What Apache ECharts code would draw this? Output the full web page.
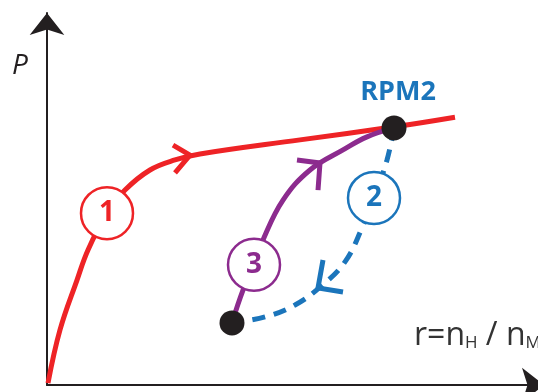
<!DOCTYPE html>
<html>
<head>
<meta charset="utf-8">
<script src="https://cdn.jsdelivr.net/npm/echarts@6/dist/echarts.min.js"></script>
<style>
  html, body { margin: 0; padding: 0; background: #fff; }
  #chart { width: 538px; height: 392px; }
</style>
</head>
<body>
<div id="chart"></div>
<script>
// path 1: run-up along the red characteristic
const path1 = [[0.2, 0.5], [2.6, 14.8], [6.0, 28.2], [8.2, 36.3], [12.0, 46.2], [15.6, 52.4],
  [20.6, 57.8], [25.6, 60.5], [30.6, 62.1], [50.6, 65.9], [69.4, 69.4], [81.6, 72.0]];
// path 2: dashed drop from RPM2 to the low point
const path2 = [[69.4, 69.1], [68.0, 60.5], [65.4, 50.3], [63.0, 42.2], [59.6, 33.1],
  [54.6, 26.3], [49.6, 21.5], [43.6, 18.3], [37.0, 16.7]];
// path 3: climb back to RPM2
const path3 = [[37.0, 16.7], [39.2, 25.5], [41.4, 32.3], [43.2, 39.0], [47.2, 49.7],
  [52.6, 57.8], [59.2, 63.2], [64.0, 66.7], [69.4, 69.1]];

// direction chevrons (arm, tip, arm)
const arrow1 = [[25.2, 64.5], [28.6, 61.8], [25.6, 57.0]];
const arrow2 = [[55.2, 33.6], [54.2, 26.1], [59.2, 25.0]];
const arrow3 = [[50.0, 60.5], [54.6, 59.7], [54.2, 52.4]];

// numbered markers
const badgeNames = ['1', '2', '3'];
const badgePos = [[12.0, 46.2], [65.4, 50.3], [41.4, 32.3]];
const pointNames = ['RPM2', ''];
const pointPos = [[69.4, 69.1], [37.0, 16.7]];

const RED = '#ee2326';
const BLUE = '#1b75bb';
const PURPLE = '#8c2b8e';
const INK = '#231f20';
const FONT = '"Open Sans", "Noto Sans", sans-serif';
const badgeColors = [RED, BLUE, PURPLE];

const chart = echarts.init(document.getElementById('chart'));

function curve(data, color, dashed) {
  return {
    type: 'line', data: data, smooth: 0.4, symbol: 'none', z: 2,
    lineStyle: { color: color, width: 5, type: dashed ? [13, 9] : 'solid', cap: 'butt' }
  };
}
function chevron(data, color) {
  return {
    type: 'line', data: data, smooth: false, symbol: 'none', z: 3,
    lineStyle: { color: color, width: 5, cap: 'butt', join: 'miter' }
  };
}

const axisStyle = {
  type: 'value', min: 0,
  axisLine: { lineStyle: { color: INK, width: 2 }, symbol: ['none', 'arrow'], symbolSize: [26, 22] },
  axisTick: { show: false }, axisLabel: { show: false }, splitLine: { show: false }
};

chart.setOption({
  animation: false,
  // x axis runs slightly past the right edge, its arrow is clipped like in the source
  grid: { left: 47, width: 497, top: 13, bottom: 7, outerBoundsMode: 'none', containLabel: false },
  xAxis: Object.assign({ max: 99.4 }, axisStyle),
  yAxis: Object.assign({ max: 100 }, axisStyle),
  graphic: [
    {
      type: 'text', left: 12, top: 52,
      style: { text: 'P', font: 'italic 28px ' + FONT, fill: INK }
    },
    {
      type: 'text', left: 414, top: 320,
      style: {
        text: 'r=n{s|H} / n{s|M}',
        font: '32px ' + FONT, fill: '#333',
        rich: { s: { fontSize: 17, fontFamily: FONT, fill: '#333', verticalAlign: 'bottom' } }
      }
    }
  ],
  series: [
    curve(path1, RED, false),
    curve(path2, BLUE, true),
    curve(path3, PURPLE, false),
    chevron(arrow1, RED),
    chevron(arrow2, BLUE),
    chevron(arrow3, PURPLE),
    {
      type: 'scatter', symbol: 'circle', symbolSize: 52, z: 5,
      data: badgeNames.map(function (n, i) {
        return {
          name: n, value: badgePos[i],
          itemStyle: { color: '#fff', opacity: 1, borderWidth: 2.5, borderColor: badgeColors[i] },
          label: { color: badgeColors[i] }
        };
      }),
      label: {
        show: true, position: 'inside', formatter: '{b}',
        fontFamily: FONT, fontSize: 28, fontWeight: 'bold'
      },
      emphasis: { disabled: true }
    },
    {
      type: 'scatter', symbol: 'circle', symbolSize: 25, z: 6,
      data: pointNames.map(function (n, i) { return { name: n, value: pointPos[i] }; }),
      itemStyle: { color: INK, opacity: 1 },
      label: {
        show: true, position: 'top', distance: 10, offset: [4, 0], formatter: '{b}',
        fontFamily: FONT, fontSize: 27, fontWeight: 'bold', color: BLUE
      },
      emphasis: { disabled: true }
    }
  ]
});
</script>
</body>
</html>
